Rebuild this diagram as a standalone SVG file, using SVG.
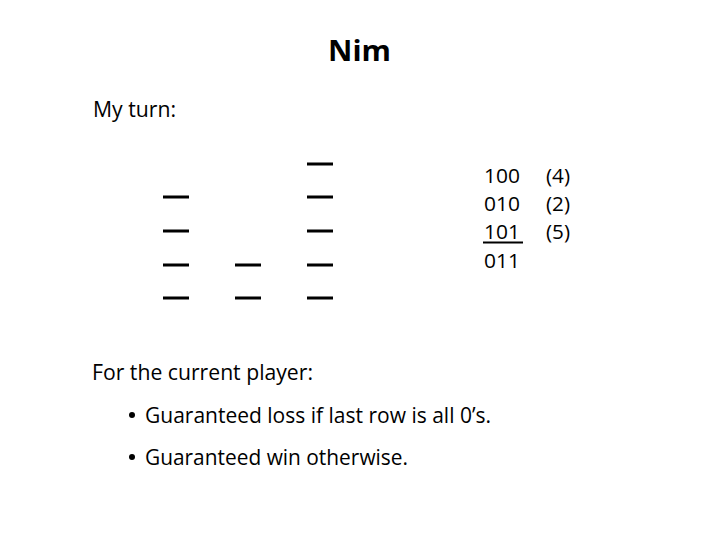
<svg xmlns="http://www.w3.org/2000/svg" width="720" height="540" viewBox="0 0 720 540">
<style>
text{font-family:"Open Sans","Noto Sans","Liberation Sans",sans-serif;fill:#000}
.b{font-size:21px}
.n{font-size:20px}
.t{font-size:29px;font-weight:bold}
.bar{fill:#000}
</style>
<rect width="720" height="540" fill="#fff"/>
<text class="t" x="328" y="61" textLength="63" lengthAdjust="spacingAndGlyphs">Nim</text>
<text class="b" x="93" y="117" textLength="83" lengthAdjust="spacingAndGlyphs">My turn:</text>
<g id="heap1">
<rect class="bar" x="163" y="195.5" width="26" height="3"/>
<rect class="bar" x="163" y="229.5" width="26" height="3"/>
<rect class="bar" x="163" y="263.5" width="26" height="3"/>
<rect class="bar" x="163" y="296.5" width="26" height="3"/>
</g>
<g id="heap2">
<rect class="bar" x="235" y="263.5" width="26" height="3"/>
<rect class="bar" x="235" y="296.5" width="26" height="3"/>
</g>
<g id="heap3">
<rect class="bar" x="307" y="162.5" width="26" height="3"/>
<rect class="bar" x="307" y="195.5" width="26" height="3"/>
<rect class="bar" x="307" y="229.5" width="26" height="3"/>
<rect class="bar" x="307" y="263.5" width="26" height="3"/>
<rect class="bar" x="307" y="296.5" width="26" height="3"/>
</g>
<g id="binary">
<text class="n" x="484" y="183" textLength="36" lengthAdjust="spacingAndGlyphs">100</text>
<text class="n" x="546" y="183" textLength="24" lengthAdjust="spacingAndGlyphs">(4)</text>
<text class="n" x="484" y="211" textLength="36" lengthAdjust="spacingAndGlyphs">010</text>
<text class="n" x="546" y="211" textLength="24" lengthAdjust="spacingAndGlyphs">(2)</text>
<text class="n" x="484" y="239" textLength="36" lengthAdjust="spacingAndGlyphs">101</text>
<rect x="483" y="241.5" width="40" height="2" fill="#000"/>
<text class="n" x="546" y="239" textLength="24" lengthAdjust="spacingAndGlyphs">(5)</text>
<text class="n" x="484" y="268" textLength="36" lengthAdjust="spacingAndGlyphs">011</text>
</g>
<text class="b" x="92" y="380" textLength="221" lengthAdjust="spacingAndGlyphs">For the current player:</text>
<circle cx="132" cy="415" r="3"/>
<text class="b" x="145" y="423" textLength="346" lengthAdjust="spacingAndGlyphs">Guaranteed loss if last row is all 0’s.</text>
<circle cx="132" cy="457" r="3"/>
<text class="b" x="145" y="465" textLength="263" lengthAdjust="spacingAndGlyphs">Guaranteed win otherwise.</text>
</svg>
